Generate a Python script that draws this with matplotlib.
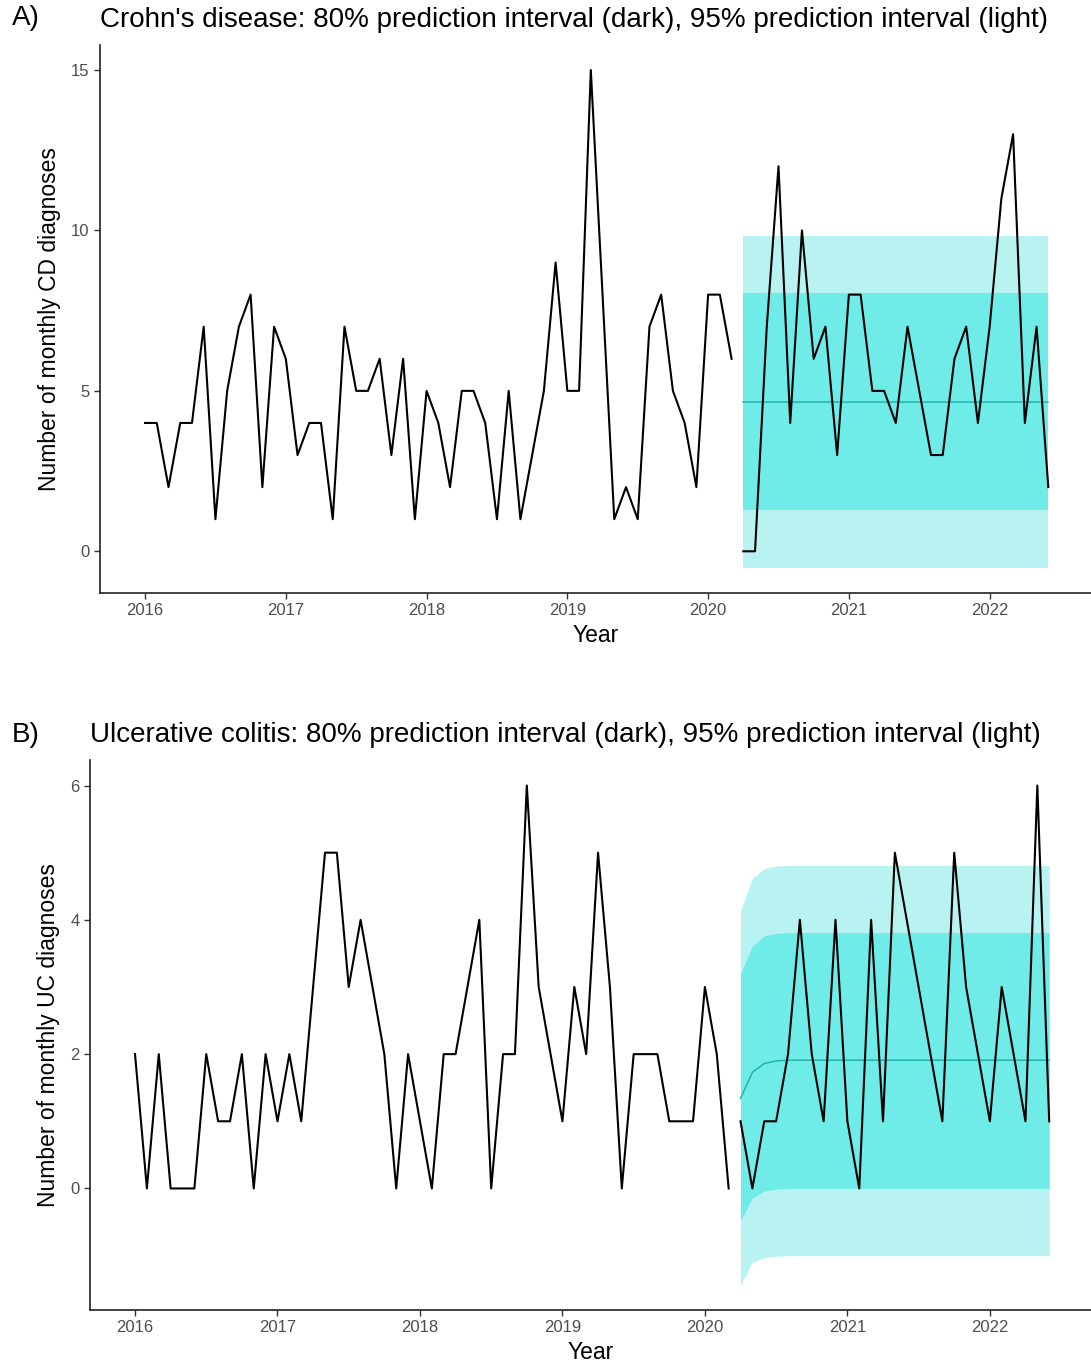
import matplotlib.pyplot as plt
from matplotlib.ticker import FixedLocator

plt.rcParams['font.family'] = ['Liberation Sans', 'DejaVu Sans']

# observed monthly counts, Jan 2016 - Mar 2020 (training period)
cd_before = [4, 4, 2, 4, 4, 7, 1, 5, 7, 8, 2, 7,
             6, 3, 4, 4, 1, 7, 5, 5, 6, 3, 6, 1,
             5, 4, 2, 5, 5, 4, 1, 5, 1, 3, 5, 9,
             5, 5, 15, 8, 1, 2, 1, 7, 8, 5, 4, 2,
             8, 8, 6]
uc_before = [2, 0, 2, 0, 0, 0, 2, 1, 1, 2, 0, 2,
             1, 2, 1, 3, 5, 5, 3, 4, 3, 2, 0, 2,
             1, 0, 2, 2, 3, 4, 0, 2, 2, 6, 3, 2,
             1, 3, 2, 5, 3, 0, 2, 2, 2, 1, 1, 1,
             3, 2, 0]

# observed monthly counts, Apr 2020 - Jun 2022 (forecast period)
cd_after = [0, 0, 7, 12, 4, 10, 6, 7, 3,
            8, 8, 5, 5, 4, 7, 5, 3, 3, 6, 7, 4,
            7, 11, 13, 4, 7, 2]
uc_after = [1, 0, 1, 1, 2, 4, 2, 1, 4,
            1, 0, 4, 1, 5, 4, 3, 2, 1, 5, 3, 2,
            1, 3, 2, 1, 6, 1]

# forecasts (mean, 80% and 95% limits), Apr 2020 - Jun 2022
cd_mean = [4.65] * 27
cd_lo80 = [1.28] * 27
cd_hi80 = [8.04] * 27
cd_lo95 = [-0.52] * 27
cd_hi95 = [9.83] * 27

uc_mean = [1.34, 1.73, 1.86, 1.90, 1.91, 1.91, 1.91, 1.91, 1.91,
           1.91, 1.91, 1.91, 1.91, 1.91, 1.91, 1.91, 1.91, 1.91,
           1.91, 1.91, 1.91, 1.91, 1.91, 1.91, 1.91, 1.91, 1.91]
uc_lo80 = [-0.48, -0.14, -0.04, -0.01, 0.0, 0.0, 0.0, 0.0, 0.0,
           0.0, 0.0, 0.0, 0.0, 0.0, 0.0, 0.0, 0.0, 0.0,
           0.0, 0.0, 0.0, 0.0, 0.0, 0.0, 0.0, 0.0, 0.0]
uc_hi80 = [3.19, 3.61, 3.76, 3.80, 3.81, 3.81, 3.81, 3.81, 3.81,
           3.81, 3.81, 3.81, 3.81, 3.81, 3.81, 3.81, 3.81, 3.81,
           3.81, 3.81, 3.81, 3.81, 3.81, 3.81, 3.81, 3.81, 3.81]
uc_lo95 = [-1.44, -1.10, -1.03, -1.01, -1.0, -1.0, -1.0, -1.0, -1.0,
           -1.0, -1.0, -1.0, -1.0, -1.0, -1.0, -1.0, -1.0, -1.0,
           -1.0, -1.0, -1.0, -1.0, -1.0, -1.0, -1.0, -1.0, -1.0]
uc_hi95 = [4.13, 4.62, 4.76, 4.80, 4.81, 4.81, 4.81, 4.81, 4.81,
           4.81, 4.81, 4.81, 4.81, 4.81, 4.81, 4.81, 4.81, 4.81,
           4.81, 4.81, 4.81, 4.81, 4.81, 4.81, 4.81, 4.81, 4.81]

years = [2016, 2017, 2018, 2019, 2020, 2021, 2022]
cd_yticks = [0, 5, 10, 15]
uc_yticks = [0, 2, 4, 6]

LIGHT = '#b8f3f2'
DARK = '#70ece8'
MEAN = '#1fb5ae'


def months(start, n):
    # decimal years for n consecutive months from start
    return [start + i / 12 for i in range(n)]


def plot_panel(ax, before, after, mean, lo80, hi80, lo95, hi95, yticks, ylabel, title, ylim, xlim):
    x_before = months(2016.0, len(before))
    x_after = months(2020 + 3 / 12, len(after))

    ax.fill_between(x_after, lo95, hi95, color=LIGHT, lw=0)
    ax.fill_between(x_after, lo80, hi80, color=DARK, lw=0)
    ax.plot(x_after, mean, color=MEAN, lw=1.1)
    ax.plot(x_before, before, color='black', lw=1.5)
    ax.plot(x_after, after, color='black', lw=1.5)

    ax.set_xlim(*xlim)
    ax.set_ylim(*ylim)
    ax.xaxis.set_major_locator(FixedLocator(years))
    ax.set_xticklabels([str(y) for y in years])
    ax.yaxis.set_major_locator(FixedLocator(yticks))

    for side in ['top', 'right']:
        ax.spines[side].set_visible(False)
    for side in ['left', 'bottom']:
        ax.spines[side].set_linewidth(1.2)
        ax.spines[side].set_color('#222222')
    ax.tick_params(colors='#333333', labelcolor='#4d4d4d', labelsize=12, length=4, width=1)

    ax.set_xlabel('Year', fontsize=16.5, color='black', labelpad=4)
    ax.set_ylabel(ylabel, fontsize=16.5, color='black', labelpad=7)
    ax.set_title(title, loc='left', fontsize=20, color='black', pad=13)


fig = plt.figure(figsize=(10.91, 13.65), dpi=100)
W, H = 1091, 1365

ax_a = fig.add_axes([100 / W, 1 - 593 / H, 991 / W, 548 / H])
plot_panel(ax_a, cd_before, cd_after, cd_mean, cd_lo80, cd_hi80, cd_lo95, cd_hi95,
           cd_yticks, 'Number of monthly CD diagnoses',
           "Crohn's disease: 80% prediction interval (dark), 95% prediction interval (light)",
           (-1.30, 15.78), (2015.68, 2022.72))

ax_b = fig.add_axes([90 / W, 1 - 1310 / H, 1001 / W, 550 / H])
plot_panel(ax_b, uc_before, uc_after, uc_mean, uc_lo80, uc_hi80, uc_lo95, uc_hi95,
           uc_yticks, 'Number of monthly UC diagnoses',
           'Ulcerative colitis: 80% prediction interval (dark), 95% prediction interval (light)',
           (-1.81, 6.38), (2015.684, 2022.71))

fig.text(12 / W, 1 - 18 / H, 'A)', fontsize=20, va='center', ha='left')
fig.text(12 / W, 1 - 735 / H, 'B)', fontsize=20, va='center', ha='left')

fig.savefig('out.png', dpi=100)
